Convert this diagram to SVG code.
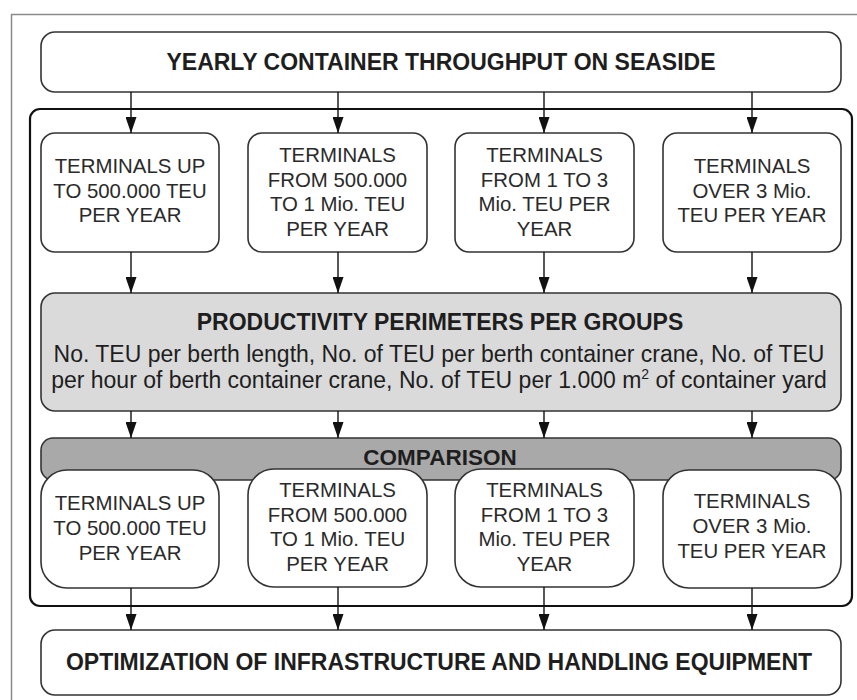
<svg xmlns="http://www.w3.org/2000/svg" width="857" height="700" viewBox="0 0 857 700">
<defs>
<marker id="ah" markerUnits="userSpaceOnUse" markerWidth="16" markerHeight="11" refX="16" refY="5.5" orient="auto" viewBox="0 0 16 11">
<path d="M0,0 L16,5.5 L0,11 Z" fill="#111"/>
</marker>
<style>
.box{fill:#fff;stroke:#333;stroke-width:1.6}
.prod{fill:#dadada;stroke:#333;stroke-width:1.6}
.comp{fill:#a9a9a9;stroke:#333;stroke-width:1.6}
.frame{fill:none;stroke:#111;stroke-width:2.2}
.t{font-family:"Liberation Sans",Arial,sans-serif;fill:#1e1e1e;text-anchor:middle}
.b{font-weight:bold}
.n{font-size:20.4px;fill:#2a2a2a}
.c line{stroke:#111;stroke-width:1.4;marker-end:url(#ah)}
</style>
</defs>
<rect width="857" height="700" fill="#fff"/>
<path d="M11.5,700 V14.5 H857" fill="none" stroke="#8a8a8a" stroke-width="1.5"/>
<g id="frame"><rect class="frame" x="30" y="109" width="822" height="497" rx="10"/></g>

<g id="top"><rect class="box" x="41" y="32" width="800" height="60" rx="14"/>
<text class="t b" x="441" y="70" font-size="23">YEARLY CONTAINER THROUGHPUT ON SEASIDE</text></g>

<g id="r1a"><rect class="box" x="41" y="133" width="178" height="119" rx="14"/>
<text class="t n" x="130"><tspan x="130" y="173">TERMINALS UP</tspan><tspan x="130" y="197.5">TO 500.000 TEU</tspan><tspan x="130" y="222">PER YEAR</tspan></text></g>
<g id="r1b"><rect class="box" x="248" y="133" width="179" height="119" rx="14"/>
<text class="t n" x="337.5"><tspan x="337.5" y="162">TERMINALS</tspan><tspan x="337.5" y="186.5">FROM 500.000</tspan><tspan x="337.5" y="211">TO 1 Mio. TEU</tspan><tspan x="337.5" y="235.5">PER YEAR</tspan></text></g>
<g id="r1c"><rect class="box" x="455" y="133" width="179" height="119" rx="14"/>
<text class="t n" x="544.5"><tspan x="544.5" y="162">TERMINALS</tspan><tspan x="544.5" y="186.5">FROM 1 TO 3</tspan><tspan x="544.5" y="211">Mio. TEU PER</tspan><tspan x="544.5" y="235.5">YEAR</tspan></text></g>
<g id="r1d"><rect class="box" x="663" y="133" width="178" height="119" rx="14"/>
<text class="t n" x="752"><tspan x="752" y="173">TERMINALS</tspan><tspan x="752" y="197.5">OVER 3 Mio.</tspan><tspan x="752" y="222">TEU PER YEAR</tspan></text></g>

<g id="productivity"><rect class="prod" x="41" y="293" width="800" height="118" rx="14"/>
<text class="t b" x="440" y="330" font-size="23">PRODUCTIVITY PERIMETERS PER GROUPS</text>
<text class="t" x="439" y="362" font-size="23" fill="#2a2a2a">No. TEU per berth length, No. of TEU per berth container crane, No. of TEU</text>
<text class="t" x="439" y="388" font-size="23" fill="#2a2a2a">per hour of berth container crane, No. of TEU per 1.000 m<tspan font-size="14" dy="-9">2</tspan><tspan dy="9"> of container yard</tspan></text></g>

<g id="comparison"><rect class="comp" x="41" y="438" width="800" height="42" rx="12"/>
<text class="t b" x="440" y="465" font-size="22.5">COMPARISON</text></g>

<g id="r2a"><rect class="box" x="41" y="470" width="178" height="118" rx="26"/>
<text class="t n" x="130"><tspan x="130" y="510">TERMINALS UP</tspan><tspan x="130" y="535">TO 500.000 TEU</tspan><tspan x="130" y="560">PER YEAR</tspan></text></g>
<g id="r2b"><rect class="box" x="248" y="469" width="179" height="118" rx="26"/>
<text class="t n" x="337.5"><tspan x="337.5" y="497">TERMINALS</tspan><tspan x="337.5" y="521.5">FROM 500.000</tspan><tspan x="337.5" y="546">TO 1 Mio. TEU</tspan><tspan x="337.5" y="570.5">PER YEAR</tspan></text></g>
<g id="r2c"><rect class="box" x="455" y="469" width="179" height="118" rx="26"/>
<text class="t n" x="544.5"><tspan x="544.5" y="497">TERMINALS</tspan><tspan x="544.5" y="521.5">FROM 1 TO 3</tspan><tspan x="544.5" y="546">Mio. TEU PER</tspan><tspan x="544.5" y="570.5">YEAR</tspan></text></g>
<g id="r2d"><rect class="box" x="663" y="470" width="178" height="118" rx="26"/>
<text class="t n" x="752"><tspan x="752" y="508">TERMINALS</tspan><tspan x="752" y="533">OVER 3 Mio.</tspan><tspan x="752" y="558">TEU PER YEAR</tspan></text></g>

<g id="bottom"><rect class="box" x="41" y="630" width="800" height="65" rx="14"/>
<text class="t b" x="439" y="670" font-size="23">OPTIMIZATION OF INFRASTRUCTURE AND HANDLING EQUIPMENT</text></g>

<g id="connectors" class="c">
<line x1="131" y1="92" x2="131" y2="133"/><line x1="338" y1="92" x2="338" y2="133"/><line x1="544" y1="92" x2="544" y2="133"/><line x1="752" y1="92" x2="752" y2="133"/>
<line x1="131" y1="252" x2="131" y2="293"/><line x1="338" y1="252" x2="338" y2="293"/><line x1="544" y1="252" x2="544" y2="293"/><line x1="752" y1="252" x2="752" y2="293"/>
<line x1="131" y1="411" x2="131" y2="438"/><line x1="338" y1="411" x2="338" y2="438"/><line x1="544" y1="411" x2="544" y2="438"/><line x1="752" y1="411" x2="752" y2="438"/>
<line x1="131" y1="588" x2="131" y2="630"/><line x1="338" y1="587" x2="338" y2="630"/><line x1="544" y1="587" x2="544" y2="630"/><line x1="752" y1="588" x2="752" y2="630"/>
</g>
</svg>
